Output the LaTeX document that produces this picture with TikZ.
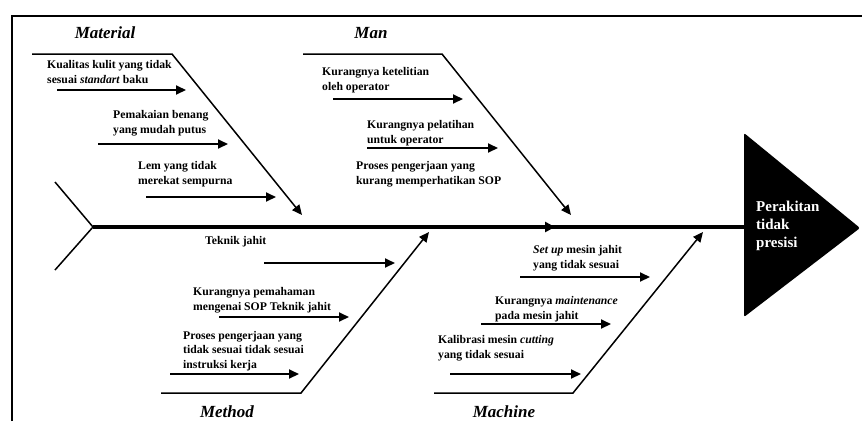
\documentclass[tikz,border=0pt]{standalone}
\usepackage{fontspec}
\setmainfont{Liberation Serif}
\usetikzlibrary{arrows.meta}

\begin{document}
\begin{tikzpicture}[x=1pt,y=-1pt,>={Triangle[length=10pt,width=9pt]},
  cause/.style={font=\fontsize{11.7}{14.5}\selectfont\bfseries, align=left, anchor=west, inner sep=0pt},
  group/.style={font=\fontsize{17}{20}\selectfont\bfseries\itshape, inner sep=0pt},
  bone/.style={line width=1.5pt},
  sub/.style={line width=2pt}]
\useasboundingbox (0,0) rectangle (862,421);

% frame
\draw[line width=2.5pt](12,421)--(12,16)--(862,16);

% spine and head
\coordinate(TU) at (55,182);
\coordinate(T) at (93,227);
\coordinate(TL) at (55,270);
\coordinate(S) at (555,227);
\coordinate(H) at (744,227);
\draw[bone](TU)--(T)--(TL);
\draw[line width=4pt](T)--(H);
\draw[line width=4pt,-{Triangle[length=10pt,width=10pt]}](T)--(S);
\fill[rounded corners=2pt](744,133)--(860,228)--(744,317)--cycle;
\node[font=\fontsize{15}{18}\selectfont\bfseries, text=white, align=left, anchor=west, inner sep=0pt](E) at (756,226){Perakitan\\tidak\\presisi};

% Material
\node[group](A) at (105,33){Material};
\coordinate(A0) at (32,54);
\coordinate(A1) at (172,54);
\coordinate(A2) at (302,215);
\draw[bone,->](A0)--(A1)--(A2);
\node[cause](MA1) at (47,72){Kualitas kulit yang tidak\\sesuai \textit{standart} baku};
\node[cause](MA2) at (113,123){Pemakaian benang\\yang mudah putus};
\node[cause](MA3) at (138,174){Lem yang tidak\\merekat sempurna};
\coordinate(MA1s) at (57,90);  \coordinate(MA1e) at (186,90);
\coordinate(MA2s) at (98,144); \coordinate(MA2e) at (228,144);
\coordinate(MA3s) at (146,197);\coordinate(MA3e) at (276,197);
\draw[sub,->](MA1s)--(MA1e);
\draw[sub,->](MA2s)--(MA2e);
\draw[sub,->](MA3s)--(MA3e);

% Man
\node[group](B) at (371,33){Man};
\coordinate(B0) at (303,54);
\coordinate(B1) at (442,54);
\coordinate(B2) at (571,215);
\draw[bone,->](B0)--(B1)--(B2);
\node[cause](MN1) at (322,80){Kurangnya ketelitian\\oleh operator};
\node[cause](MN2) at (367,133){Kurangnya pelatihan\\untuk operator};
\node[cause](MN3) at (356,174){Proses pengerjaan yang\\kurang memperhatikan SOP};
\coordinate(MN1s) at (333,99);  \coordinate(MN1e) at (463,99);
\coordinate(MN2s) at (367,148); \coordinate(MN2e) at (498,148);
\draw[sub,->](MN1s)--(MN1e);
\draw[sub,->](MN2s)--(MN2e);

% Method
\node[group](C) at (227,412){Method};
\coordinate(C0) at (161,393);
\coordinate(C1) at (301,393);
\coordinate(C2) at (429,232);
\draw[bone,->](C0)--(C1)--(C2);
\node[cause](ME1) at (205,242){Teknik jahit};
\node[cause](ME2) at (193,300){Kurangnya pemahaman\\mengenai SOP Teknik jahit};
\node[cause](ME3) at (183,351){Proses pengerjaan yang\\tidak sesuai tidak sesuai\\instruksi kerja};
\coordinate(ME1s) at (264,263); \coordinate(ME1e) at (395,263);
\coordinate(ME2s) at (219,317); \coordinate(ME2e) at (349,317);
\coordinate(ME3s) at (170,374); \coordinate(ME3e) at (299,374);
\draw[sub,->](ME1s)--(ME1e);
\draw[sub,->](ME2s)--(ME2e);
\draw[sub,->](ME3s)--(ME3e);

% Machine
\node[group](D) at (504,412){Machine};
\coordinate(D0) at (434,393);
\coordinate(D1) at (573,393);
\coordinate(D2) at (703,232);
\draw[bone,->](D0)--(D1)--(D2);
\node[cause](MC1) at (533,258){\textit{Set up} mesin jahit\\yang tidak sesuai};
\node[cause](MC2) at (495,309){Kurangnya \textit{maintenance}\\pada mesin jahit};
\node[cause](MC3) at (438,348){Kalibrasi mesin \textit{cutting}\\yang tidak sesuai};
\coordinate(MC1s) at (520,277); \coordinate(MC1e) at (650,277);
\coordinate(MC2s) at (481,324); \coordinate(MC2e) at (611,324);
\coordinate(MC3s) at (450,374); \coordinate(MC3e) at (581,374);
\draw[sub,->](MC1s)--(MC1e);
\draw[sub,->](MC2s)--(MC2e);
\draw[sub,->](MC3s)--(MC3e);

\end{tikzpicture}
\end{document}
